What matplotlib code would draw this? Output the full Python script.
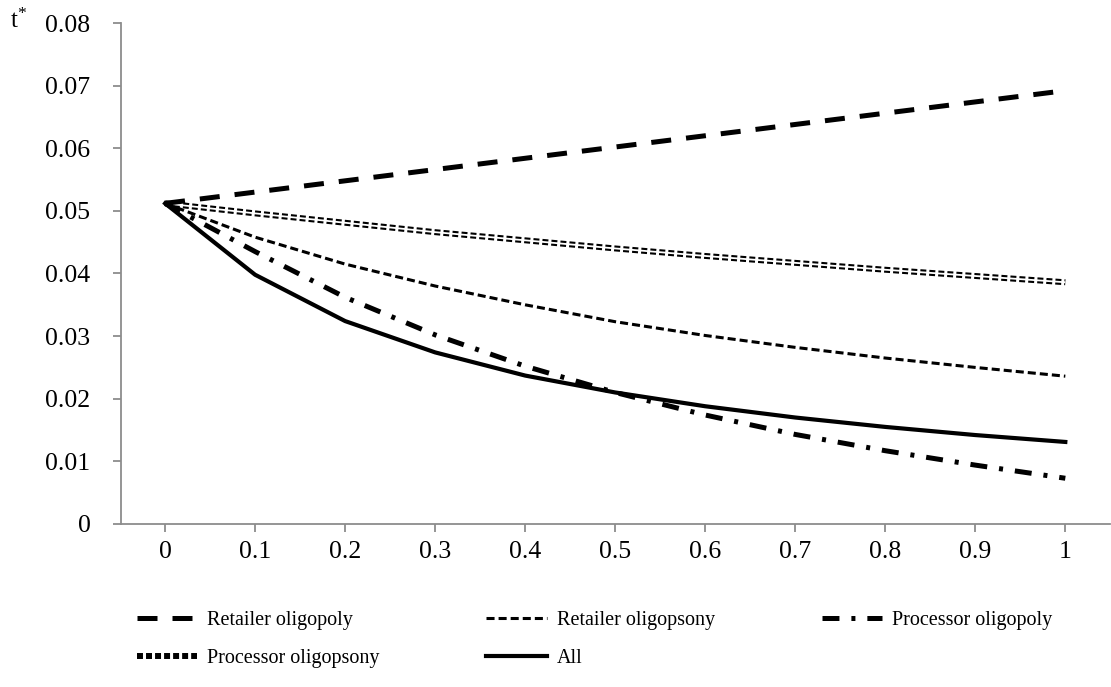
import numpy as np
import matplotlib
matplotlib.use("Agg")
import matplotlib.pyplot as plt

plt.rcParams['font.family'] = ['Liberation Serif', 'DejaVu Serif']
plt.rcParams['mathtext.fontset'] = 'custom'
plt.rcParams['mathtext.rm'] = 'Liberation Serif'
plt.rcParams['mathtext.it'] = 'Liberation Serif:italic'
plt.rcParams['lines.scale_dashes'] = False

x_labels = ["0", "0.1", "0.2", "0.3", "0.4", "0.5", "0.6", "0.7", "0.8", "0.9", "1"]

retailer_oligopoly = [0.0512, 0.0530, 0.0548, 0.0566, 0.0584, 0.0602,
                      0.0620, 0.0638, 0.0656, 0.0674, 0.0692]
retailer_oligopsony = [0.0512, 0.0458, 0.0415, 0.0380, 0.0350, 0.0323,
                       0.0301, 0.0282, 0.0265, 0.0250, 0.0236]
processor_oligopoly = [0.0512, 0.0435, 0.0362, 0.0302, 0.0252, 0.0210,
                       0.0174, 0.0143, 0.0117, 0.0094, 0.0073]
processor_oligopsony = [0.0512, 0.0496, 0.0481, 0.0466, 0.0453, 0.0440,
                        0.0428, 0.0417, 0.0406, 0.0396, 0.0386]
all_series = [0.0512, 0.0398, 0.0324, 0.0274, 0.0237, 0.0210,
              0.0188, 0.0170, 0.0155, 0.0142, 0.0131]

y_ticks = [0, 0.01, 0.02, 0.03, 0.04, 0.05, 0.06, 0.07, 0.08]
y_labels = ["0", "0.01", "0.02", "0.03", "0.04", "0.05", "0.06", "0.07", "0.08"]

fig = plt.figure(figsize=(11.11, 6.87), dpi=100)
ax = fig.add_axes([0.1089, 0.2373, 0.8905, 0.7292])
xs = np.arange(len(x_labels))

l_ro, = ax.plot(xs, retailer_oligopoly, color='black', lw=3.6,
                dashes=(14.4, 10.8), label="Retailer oligopoly", zorder=4)
l_rs, = ax.plot(xs, retailer_oligopsony, color='black', lw=2.2,
                dashes=(5.8, 2.9), label="Retailer oligopsony", zorder=4)
l_po, = ax.plot(xs, processor_oligopoly, color='black', lw=3.6,
                dashes=(12.2, 8.6, 2.9, 8.6), label="Processor oligopoly", zorder=4)
l_ps, = ax.plot(xs, processor_oligopsony, color='black', lw=4.3,
                dashes=(4.3, 2.2), label="Processor oligopsony", zorder=2)
# white core gives the double-line look
ax.plot(xs, processor_oligopsony, color='white', lw=1.3, zorder=3,
        solid_capstyle='butt')
l_all, = ax.plot(xs, all_series, color='black', lw=3.0,
                 label="All", zorder=5)

ax.set_xlim(-0.49, 10.5)
ax.set_ylim(0, 0.08)
ax.set_xticks(xs)
ax.set_xticklabels(x_labels)
ax.set_yticks(y_ticks)
ax.set_yticklabels(y_labels)

for s in ['top', 'right']:
    ax.spines[s].set_visible(False)
for s in ['left', 'bottom']:
    ax.spines[s].set_color('#8c8c8c')
    ax.spines[s].set_linewidth(1.3)
ax.tick_params(axis='both', colors='#8c8c8c', labelcolor='black',
               labelsize=18.5, width=1.3, length=6, direction='out')
ax.tick_params(axis='x', pad=6)
ax.tick_params(axis='y', pad=16)

fig.text(0.009, 0.97, r"t$^{*}$", fontsize=18, ha='left', va='center')

handles = [l_ro, l_ps, l_rs, l_all, l_po]
fig.legend(handles=handles, labels=[h.get_label() for h in handles],
           ncol=3, loc='upper left', bbox_to_anchor=(0.114, 0.126),
           frameon=False, fontsize=14.5, handlelength=3.0, handletextpad=0.5,
           columnspacing=5.3, labelspacing=0.95, borderpad=0)

fig.savefig("out.png", dpi=100)
